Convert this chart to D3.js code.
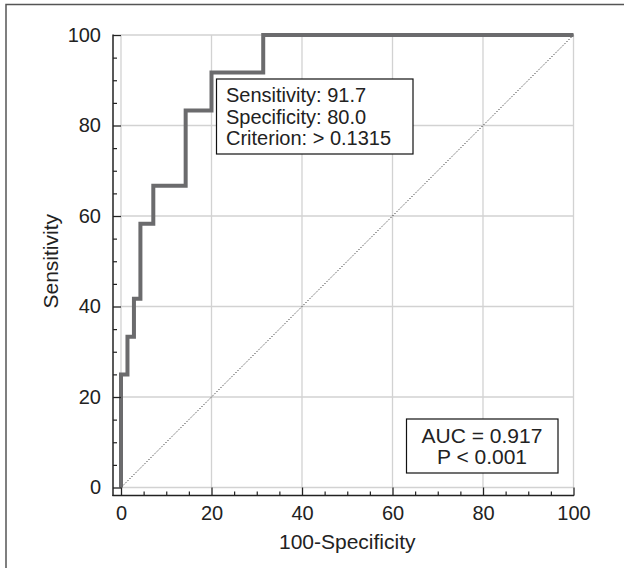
<!DOCTYPE html>
<html>
<head>
<meta charset="utf-8">
<script src="https://cdn.jsdelivr.net/npm/d3@7"></script>
<style>
  html, body { margin: 0; padding: 0; background: #fff; }
  svg { display: block; font-family: "Liberation Sans", Arial, Helvetica, sans-serif; }
</style>
</head>
<body>
<svg id="chart" width="624" height="568"></svg>
<script>
// ROC curve corner points (100-Specificity, Sensitivity)
const fprValues = [0, 0, 1.43, 2.86, 4.29, 7.14, 14.29, 20.0, 31.43, 100];
const tprValues = [0, 25, 33.3, 41.7, 58.3, 66.7, 83.3, 91.7, 100, 100];
const majorTicks = [0, 20, 40, 60, 80, 100];
const minorTicks = [5, 10, 15, 25, 30, 35, 45, 50, 55, 65, 70, 75, 85, 90, 95];
const xTitle = "100-Specificity";
const yTitle = "Sensitivity";
const criterionLines = ["Sensitivity: 91.7", "Specificity: 80.0", "Criterion: > 0.1315"];
const aucLines = ["AUC = 0.917", "P < 0.001"];

const svg = d3.select("#chart");
const x = d3.scaleLinear().domain([0, 100]).range([121, 573.5]);
const y = d3.scaleLinear().domain([0, 100]).range([487.5, 35]);
const axisOffset = 8;
const yAxisX = x(0) - axisOffset;
const xAxisY = y(0) + axisOffset;

// outer frame (top and left)
svg.append("path")
  .attr("d", "M6,568 V4.5 H624")
  .attr("fill", "none").attr("stroke", "#555").attr("stroke-width", 1.5);

// grid
const grid = svg.append("g").attr("stroke", "#d2d2d2").attr("stroke-width", 1.3);
grid.selectAll(".gx").data(majorTicks).join("line")
  .attr("x1", d => x(d)).attr("x2", d => x(d))
  .attr("y1", y(0)).attr("y2", y(100));
grid.selectAll(".gy").data(majorTicks).join("line")
  .attr("y1", d => y(d)).attr("y2", d => y(d))
  .attr("x1", x(0)).attr("x2", x(100));

// diagonal reference
svg.append("line")
  .attr("x1", x(0)).attr("y1", y(0)).attr("x2", x(100)).attr("y2", y(100))
  .attr("stroke", "#222").attr("stroke-width", 1).attr("stroke-dasharray", "1.2,1.8");

// ROC curve
const pts = fprValues.map((v, i) => [v, tprValues[i]]);
svg.append("path")
  .datum(pts)
  .attr("d", d3.line().x(d => x(d[0])).y(d => y(d[1])).curve(d3.curveStepAfter))
  .attr("fill", "none").attr("stroke", "#6b6b6d").attr("stroke-width", 4)
  .attr("stroke-linejoin", "miter");

// axes
const axisColor = "#222";
// Y axis
const yAxisG = svg.append("g").attr("transform", `translate(${yAxisX},0)`);
yAxisG.call(d3.axisLeft(y).tickValues(majorTicks).tickSizeInner(-axisOffset).tickSizeOuter(0).tickPadding(12));
yAxisG.select(".domain").remove();
yAxisG.selectAll(".tick line").attr("stroke", axisColor).attr("stroke-width", 1.3);
yAxisG.selectAll(".tick text").attr("font-size", 20).attr("fill", "#222")
  .attr("font-family", "'Liberation Sans', Arial, sans-serif");
const yMinorG = svg.append("g").attr("transform", `translate(${yAxisX},0)`);
yMinorG.call(d3.axisLeft(y).tickValues(minorTicks).tickSizeInner(-4).tickSizeOuter(0).tickFormat(""));
yMinorG.select(".domain").remove();
yMinorG.selectAll(".tick line").attr("stroke", axisColor).attr("stroke-width", 1.2);
svg.append("line").attr("x1", yAxisX).attr("x2", yAxisX)
  .attr("y1", y(100) - 0.6).attr("y2", xAxisY + 0.6)
  .attr("stroke", axisColor).attr("stroke-width", 1.5);

// X axis
const xAxisG = svg.append("g").attr("transform", `translate(0,${xAxisY})`);
xAxisG.call(d3.axisBottom(x).tickValues(majorTicks).tickSizeInner(-axisOffset).tickSizeOuter(0).tickPadding(10));
xAxisG.select(".domain").remove();
xAxisG.selectAll(".tick line").attr("stroke", axisColor).attr("stroke-width", 1.3);
xAxisG.selectAll(".tick text").attr("font-size", 20).attr("fill", "#222")
  .attr("font-family", "'Liberation Sans', Arial, sans-serif");
const xMinorG = svg.append("g").attr("transform", `translate(0,${xAxisY})`);
xMinorG.call(d3.axisBottom(x).tickValues(minorTicks).tickSizeInner(-4).tickSizeOuter(0).tickFormat(""));
xMinorG.select(".domain").remove();
xMinorG.selectAll(".tick line").attr("stroke", axisColor).attr("stroke-width", 1.2);
svg.append("line").attr("x1", yAxisX - 0.6).attr("x2", x(100) + 0.6)
  .attr("y1", xAxisY).attr("y2", xAxisY)
  .attr("stroke", axisColor).attr("stroke-width", 1.5);

// axis titles
svg.append("text")
  .attr("x", (x(0) + x(100)) / 2).attr("y", 549)
  .attr("text-anchor", "middle").attr("font-size", 21).attr("fill", "#222")
  .text(xTitle);
svg.append("text")
  .attr("transform", `translate(58,${(y(0) + y(100)) / 2}) rotate(-90)`)
  .attr("text-anchor", "middle").attr("font-size", 21).attr("fill", "#222")
  .text(yTitle);

// criterion box
const b1 = svg.append("g");
b1.append("rect").attr("x", 216.5).attr("y", 79).attr("width", 196.5).attr("height", 75)
  .attr("fill", "#fff").attr("stroke", "#111").attr("stroke-width", 1.2);
b1.append("text")
  .attr("font-size", 20).attr("fill", "#222")
  .selectAll("tspan").data(criterionLines).join("tspan")
  .attr("x", 226).attr("y", (d, i) => 102 + i * 21.5)
  .text(d => d);

// AUC box
const b2 = svg.append("g");
b2.append("rect").attr("x", 406.5).attr("y", 419).attr("width", 151.5).attr("height", 54)
  .attr("fill", "#fff").attr("stroke", "#111").attr("stroke-width", 1.2);
b2.append("text")
  .attr("text-anchor", "middle").attr("font-size", 21).attr("fill", "#222")
  .selectAll("tspan").data(aucLines).join("tspan")
  .attr("x", 482).attr("y", (d, i) => 443 + i * 21)
  .text(d => d);
</script>
</body>
</html>
